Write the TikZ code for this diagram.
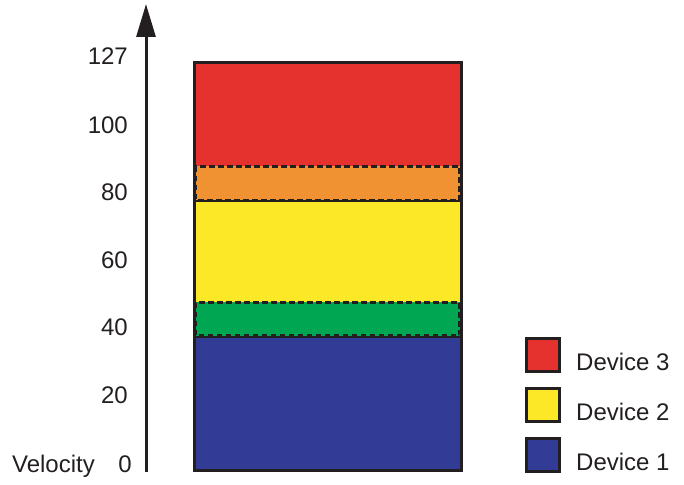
\documentclass[tikz,border=0pt]{standalone}
\usepackage{fontspec}
\setmainfont{Liberation Sans}
\usetikzlibrary{arrows.meta}
\definecolor{dred}{RGB}{230,50,46}
\definecolor{dorange}{RGB}{241,146,50}
\definecolor{dyellow}{RGB}{253,232,40}
\definecolor{dgreen}{RGB}{0,166,81}
\definecolor{dblue}{RGB}{50,60,150}
\definecolor{ink}{RGB}{35,31,32}
\tikzset{
  lbl/.style={anchor=base east, inner sep=0pt, font=\fontsize{24}{28}\selectfont, text=ink},
  leglbl/.style={anchor=base west, inner sep=0pt, font=\fontsize{24}{28}\selectfont, text=ink},
  band/.style={draw=ink, line width=3pt, dash pattern=on 5.5pt off 3.5pt},
  outline/.style={draw=ink, line width=3pt},
  legbox/.style={draw=ink, line width=3pt, minimum width=33pt, minimum height=33pt, inner sep=0pt}
}
\begin{document}
\begin{tikzpicture}[x=1pt,y=-1pt]
\useasboundingbox (0,0) rectangle (684,484);
% axis
\coordinate (axb) at (146,472);
\coordinate (axt) at (146,4);
\draw[ink, line width=3pt, -{Triangle[width=19pt,length=33pt]}] (axb) -- (axt);
% labels
\node[lbl] (l127) at (128,65) {127};
\node[lbl] (l100) at (128,133) {100};
\node[lbl] (l80) at (128,200) {80};
\node[lbl] (l60) at (128,268) {60};
\node[lbl] (l40) at (128,335) {40};
\node[lbl] (l20) at (128,403) {20};
\node[lbl] (l0) at (132,472) {0};
\node[lbl] (vel) at (95,472) {Velocity};
% bands
\fill[dred] (194,63) rectangle (461,166);
\fill[dorange] (194,166) rectangle (461,201);
\fill[dyellow] (194,201) rectangle (461,302);
\fill[dgreen] (194,302) rectangle (461,337);
\fill[dblue] (194,337) rectangle (461,470);
\draw[ink, line width=1.5pt] (194,201) -- (461,201);
\draw[ink, line width=1.5pt] (194,337) -- (461,337);
\draw[band] (195.5,166.5) rectangle (459.5,200);
\draw[band] (195.5,302.5) rectangle (459.5,335.5);
\draw[outline] (194,63) rectangle (461,470);
% legend
\node[legbox, fill=dred] (k3) at (542.5,355) {};
\node[legbox, fill=dyellow] (k2) at (542.5,404.5) {};
\node[legbox, fill=dblue] (k1) at (542.5,454.5) {};
\node[leglbl] (t3) at (576,370) {Device 3};
\node[leglbl] (t2) at (576,420) {Device 2};
\node[leglbl] (t1) at (576,470) {Device 1};
\end{tikzpicture}
\end{document}
